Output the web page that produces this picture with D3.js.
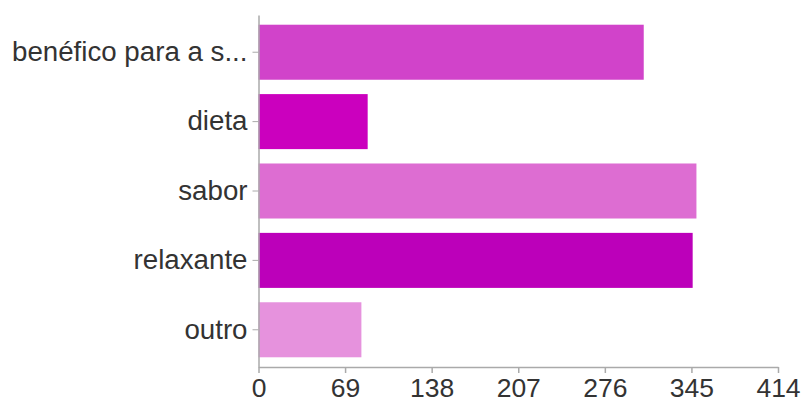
<!DOCTYPE html>
<html><head><meta charset="utf-8">
<script src="https://cdn.jsdelivr.net/npm/d3@7"></script>
<style>html,body{margin:0;padding:0;background:#fff}</style>
</head><body>
<svg id="c" width="802" height="403"></svg>
<script>
const categories = ["benéfico para a s...", "dieta", "sabor", "relaxante", "outro"];
const values = [307, 87, 349, 346, 82];
const colors = ["#d143ca", "#cb00be", "#dd6dd2", "#bc00ba", "#e692dd"];
const tickValues = [0, 69, 138, 207, 276, 345, 414];

const svg = d3.select("#c");
const x = d3.scaleLinear().domain([0, 414]).range([258.5, 778]);
const y = d3.scaleBand().domain(categories).range([15, 367]).paddingInner(0.207).paddingOuter(0.14);

svg.selectAll("rect.bar").data(categories).join("rect")
  .attr("class", "bar")
  .attr("x", x(0))
  .attr("y", d => y(d))
  .attr("width", (d, i) => x(values[i]) - x(0))
  .attr("height", y.bandwidth())
  .attr("fill", (d, i) => colors[i]);

const font = "'Liberation Sans', Arial, Helvetica, sans-serif";

const xAxis = svg.append("g").attr("transform", "translate(0,367)")
  .call(d3.axisBottom(x).tickValues(tickValues).tickSize(6).tickSizeOuter(0).tickFormat(d3.format("d")));
xAxis.select(".domain").attr("stroke", "#aaa").attr("stroke-width", 1.5);
xAxis.selectAll(".tick line").attr("stroke", "#aaa").attr("stroke-width", 1.5);
xAxis.selectAll(".tick text").attr("fill", "#333").attr("font-family", font).attr("font-size", 26.5).attr("dy", 0).attr("y", 29.5);

const yAxis = svg.append("g").attr("transform", "translate(258.5,0)")
  .call(d3.axisLeft(y).tickSize(6).tickSizeOuter(0));
yAxis.select(".domain").attr("stroke", "#aaa").attr("stroke-width", 1.5);
yAxis.selectAll(".tick line").attr("stroke", "#aaa").attr("stroke-width", 1);
yAxis.selectAll(".tick text").attr("fill", "#333").attr("font-family", font).attr("font-size", 27.7).attr("x", -11);
</script>
</body></html>
